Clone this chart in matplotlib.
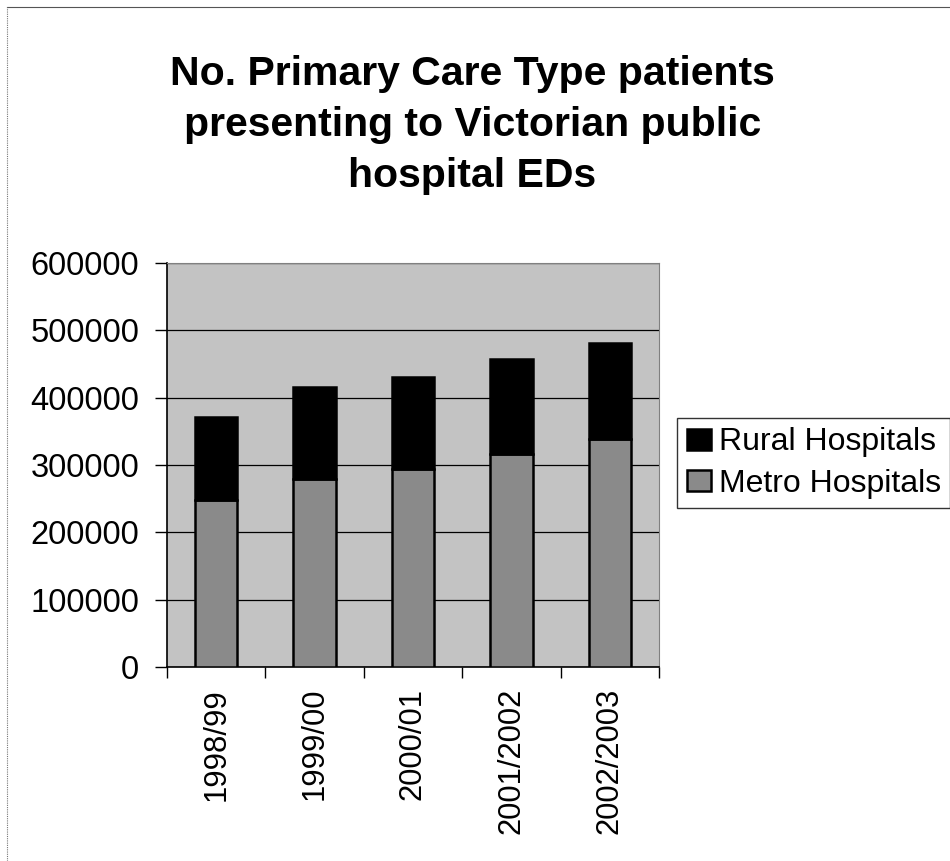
import matplotlib
matplotlib.use("Agg")
import matplotlib.pyplot as plt
from matplotlib.lines import Line2D
import numpy as np

years = ["1998/99", "1999/00", "2000/01", "2001/2002", "2002/2003"]
metro = [248000, 279000, 294000, 317000, 338000]
rural = [123000, 137000, 136000, 141000, 143000]
y_ticks = [0, 100000, 200000, 300000, 400000, 500000, 600000]

plt.rcParams["font.family"] = ["Liberation Sans", "DejaVu Sans"]

fig = plt.figure(figsize=(9.5, 8.61), dpi=100)
fig.patch.set_facecolor("white")

# thin outer chart frame (top and left edges)
fig.add_artist(Line2D([7 / 950, 1.0], [1 - 7 / 861] * 2, transform=fig.transFigure,
                      color="#555555", lw=0.8))
fig.add_artist(Line2D([7 / 950] * 2, [0.0, 1 - 7 / 861], transform=fig.transFigure,
                      color="#777777", lw=0.8, ls=(0, (1, 1))))

ax = fig.add_axes([167 / 950, 1 - 667 / 861, (659 - 167) / 950, (667 - 263) / 861])
ax.set_facecolor("#c3c3c3")

x = np.arange(len(years))
w = 0.43
ax.bar(x, metro, width=w, color="#8a8a8a", edgecolor="black", linewidth=1.8,
       label="Metro Hospitals", zorder=3)
ax.bar(x, rural, width=w, bottom=metro, color="black", edgecolor="black",
       linewidth=1.8, label="Rural Hospitals", zorder=3)

ax.set_ylim(0, 600000)
ax.set_xlim(-0.5, len(years) - 0.5)
ax.set_yticks(y_ticks)
ax.set_yticklabels([str(v) for v in y_ticks], fontsize=23.5)
ax.yaxis.grid(True, color="black", linewidth=0.9, zorder=1)
ax.set_axisbelow(True)

# category boundaries carry the tick marks, labels sit at bar centres
ax.set_xticks(np.arange(len(years) + 1) - 0.5)
ax.set_xticklabels([])
ax.set_xticks(x, minor=True)
ax.set_xticklabels(years, minor=True, rotation=90, fontsize=22.3, va="top")
ax.tick_params(axis="x", which="major", direction="out", length=8, width=1, color="black")
ax.tick_params(axis="x", which="minor", length=0, pad=15)
ax.tick_params(axis="y", direction="out", length=9, width=1, pad=11)

for side in ("left", "bottom"):
    ax.spines[side].set_color("black")
    ax.spines[side].set_linewidth(1.2)
for side in ("top", "right"):
    ax.spines[side].set_color("#808080")
    ax.spines[side].set_linewidth(0.8)

handles, labels = ax.get_legend_handles_labels()
leg = fig.legend(handles[::-1], labels[::-1], loc="center left",
                 bbox_to_anchor=(677 / 950, 1 - 463 / 861), fontsize=23,
                 frameon=True, fancybox=False, edgecolor="black",
                 handlelength=0.75, handleheight=0.65, handletextpad=0.25,
                 borderpad=0.3, labelspacing=0.35, borderaxespad=0)
leg.get_frame().set_linewidth(1.0)

fig.text(0.497, 1 - 125 / 861,
         "No. Primary Care Type patients\npresenting to Victorian public\nhospital EDs",
         ha="center", va="center", fontsize=29.5, fontweight="bold", linespacing=1.42)

fig.savefig("out.png", dpi=100, facecolor="white")
